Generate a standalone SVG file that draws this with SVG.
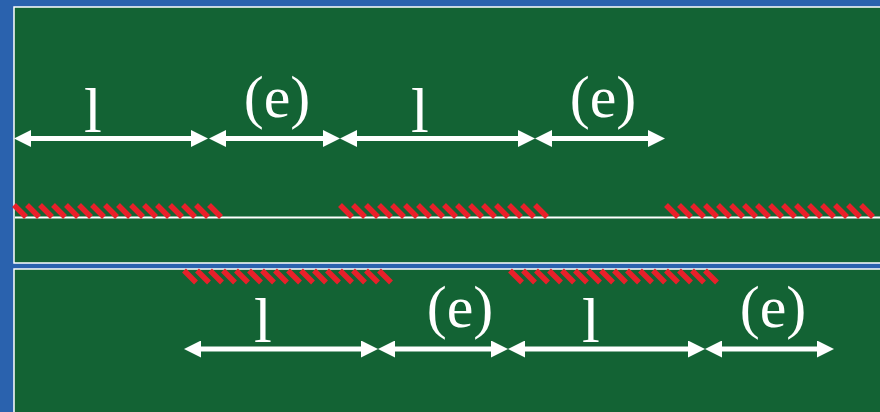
<svg xmlns="http://www.w3.org/2000/svg" xmlns:xlink="http://www.w3.org/1999/xlink" width="880" height="412" viewBox="0 0 880 412">
<style>
.panel{fill:#136334;stroke:#ffffff;stroke-width:1.5}
.track{stroke:#ffffff;stroke-width:2}
.hatch line{stroke:#E8202A;stroke-width:5.5}
.arr{stroke:#ffffff;stroke-width:5;marker-start:url(#ah);marker-end:url(#ah)}
.lbl{font-family:"Liberation Serif","Times New Roman",serif;font-size:60px;fill:#ffffff;text-anchor:middle}
.big{font-size:64px}
</style>
<defs>
<marker id="ah" markerUnits="userSpaceOnUse" markerWidth="17" markerHeight="17" refX="0" refY="8.5" orient="auto-start-reverse">
<path d="M0,0 L17,8.5 L0,17 Z" fill="#ffffff"/>
</marker>
<g id="hatch" class="hatch">
<line x1="0" y1="0" x2="12" y2="12"/><line x1="13" y1="0" x2="25" y2="12"/><line x1="26" y1="0" x2="38" y2="12"/><line x1="39" y1="0" x2="51" y2="12"/>
<line x1="52" y1="0" x2="64" y2="12"/><line x1="65" y1="0" x2="77" y2="12"/><line x1="78" y1="0" x2="90" y2="12"/><line x1="91" y1="0" x2="103" y2="12"/>
<line x1="104" y1="0" x2="116" y2="12"/><line x1="117" y1="0" x2="129" y2="12"/><line x1="130" y1="0" x2="142" y2="12"/><line x1="143" y1="0" x2="155" y2="12"/>
<line x1="156" y1="0" x2="168" y2="12"/><line x1="169" y1="0" x2="181" y2="12"/><line x1="182" y1="0" x2="194" y2="12"/><line x1="195" y1="0" x2="207" y2="12"/>
</g>
</defs>
<rect x="0" y="0" width="880" height="412" fill="#2A62AE"/>
<g id="panel-top">
<rect class="panel" x="14" y="7" width="880" height="256"/>
<line class="track" x1="15" y1="217.5" x2="880" y2="217.5"/>
<use xlink:href="#hatch" x="14" y="205"/>
<use xlink:href="#hatch" x="340" y="205"/>
<use xlink:href="#hatch" x="666" y="205"/>
</g>
<g id="panel-bottom">
<rect class="panel" x="14" y="269" width="880" height="160"/>
<use xlink:href="#hatch" x="184" y="270.5"/>
<use xlink:href="#hatch" x="510" y="270.5"/>
</g>
<g id="connectors">
<line class="arr" x1="31" y1="138.5" x2="191" y2="138.5"/>
<line class="arr" x1="226" y1="138.5" x2="323" y2="138.5"/>
<line class="arr" x1="357" y1="138.5" x2="518" y2="138.5"/>
<line class="arr" x1="552" y1="138.5" x2="648" y2="138.5"/>
<line class="arr" x1="201" y1="349" x2="361" y2="349"/>
<line class="arr" x1="395" y1="349" x2="491" y2="349"/>
<line class="arr" x1="525" y1="349" x2="688" y2="349"/>
<line class="arr" x1="722" y1="349" x2="817" y2="349"/>
</g>
<g id="labels">
<text class="lbl big" x="93" y="132">l</text>
<text class="lbl" x="277" y="117">(e)</text>
<text class="lbl big" x="420" y="132">l</text>
<text class="lbl" x="603" y="117">(e)</text>
<text class="lbl big" x="263" y="342">l</text>
<text class="lbl" x="460" y="327">(e)</text>
<text class="lbl big" x="591" y="342">l</text>
<text class="lbl" x="773" y="327">(e)</text>
</g>
</svg>
